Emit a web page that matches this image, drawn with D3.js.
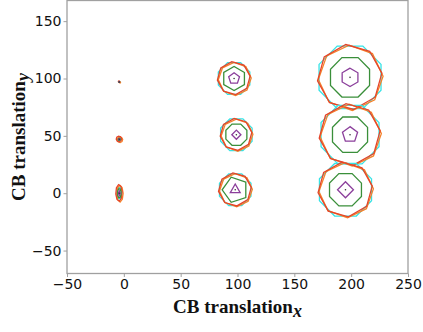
<!DOCTYPE html>
<html>
<head>
<meta charset="utf-8">
<script src="https://cdn.jsdelivr.net/npm/d3@7"></script>
<style>
  html, body { margin: 0; padding: 0; background: #fff; }
  #chart { width: 423px; height: 332px; }
</style>
</head>
<body>
<div id="chart"></div>
<script>
// cluster centres (data units)
const clusterX = [-4, -4, -4, 97, 99, 98, 199, 199, 195];
const clusterY = [97, 47, 0, 100, 51, 3, 101, 51, 3];

// circumradius of each contour, per cluster
const cyanR   = [0.4, 1.2, 2.0, 15, 15, 15, 29.5, 27.6, 24.8];
const orangeR = [0.5, 2.4, 2.8, 14.5, 14, 14.5, 28.5, 27, 24];
const greenR  = [0.3, 0.9, 1.6, 10.5, 10, 11.5, 18.6, 16.7, 15.2];
const purpleR = [0.2, 0.5, 0.8, 5.0, 4.0, 5.0, 8.0, 7.0, 7.0];
const greenSides  = [8, 8, 8, 6, 8, 5, 8, 8, 8];
const purpleSides = [4, 4, 4, 5, 4, 3, 6, 5, 4];
const stretchY    = [1, 1, 2.6, 1, 1, 1, 1, 1, 1];

const xTicks = [-50, 0, 50, 100, 150, 200, 250];
const yTicks = [-50, 0, 50, 100, 150];

const width = 423, height = 332;
const margin = { top: 0.5, right: 15, bottom: 58.5, left: 67 };

const svg = d3.select('#chart')
  .append('svg')
  .attr('width', width)
  .attr('height', height);

const x = d3.scaleLinear()
  .domain([-50, 250])
  .range([margin.left, width - margin.right]);

const y = d3.scaleLinear()
  .domain([-70, 168])
  .range([height - margin.bottom, margin.top]);

// polygon around a centre, radius in data units
const polygon = (cx, cy, r, sides, rot, sy) => {
  const pts = d3.range(sides).map(k => {
    const a = rot + k * 2 * Math.PI / sides;
    return [x(cx + r * Math.cos(a)), y(cy + r * Math.sin(a) * sy)];
  });
  return 'M' + pts.join('L') + 'Z';
};

const marks = svg.append('g').attr('fill', 'none').attr('stroke-width', 1.3);

clusterX.forEach((cx, i) => {
  const cy = clusterY[i];
  const sy = stretchY[i];
  marks.append('path')
    .attr('d', polygon(cx, cy, cyanR[i], 8, Math.PI / 8, sy))
    .attr('stroke', '#35e3e6');
  marks.append('path')
    .attr('d', polygon(cx + 0.6, cy - 0.4, orangeR[i], 8, 0.05, sy))
    .attr('stroke', '#f5822a');
  marks.append('path')
    .attr('d', polygon(cx - 0.3, cy + 0.3, orangeR[i], 8, 0.12, sy))
    .attr('stroke', '#e4452b');
  marks.append('path')
    .attr('d', polygon(cx, cy, greenR[i], greenSides[i], Math.PI / greenSides[i], sy))
    .attr('stroke', '#3a8f3a');
  marks.append('path')
    .attr('d', polygon(cx, cy, purpleR[i], purpleSides[i], Math.PI / 2, sy))
    .attr('stroke', '#8b3f9b');
  marks.append('circle')
    .attr('cx', x(cx))
    .attr('cy', y(cy))
    .attr('r', 0.8)
    .attr('fill', '#333');
});

// frame
svg.append('rect')
  .attr('x', x(-50))
  .attr('y', y(168))
  .attr('width', x(250) - x(-50))
  .attr('height', y(-70) - y(168))
  .attr('fill', 'none')
  .attr('stroke', '#a0a0a0')
  .attr('stroke-width', 1.3);

const xAxis = svg.append('g')
  .attr('transform', `translate(0, ${y(-70)})`)
  .call(d3.axisBottom(x).tickValues(xTicks).tickSize(3.5).tickPadding(2));

const yAxis = svg.append('g')
  .attr('transform', `translate(${x(-50)}, 0)`)
  .call(d3.axisLeft(y).tickValues(yTicks).tickSize(3.5).tickPadding(2));

[xAxis, yAxis].forEach(g => {
  g.select('.domain').remove();
  g.selectAll('line').attr('stroke', '#a0a0a0');
  g.selectAll('text')
    .attr('fill', '#111')
    .style('font-family', '"DejaVu Sans", sans-serif')
    .style('font-size', '14px');
});

// axis labels
const xl = svg.append('text')
  .attr('x', (x(-50) + x(250)) / 2)
  .attr('y', 312.5)
  .attr('text-anchor', 'middle')
  .style('font-family', '"Liberation Serif", "Times New Roman", serif')
  .style('font-weight', 'bold')
  .style('font-size', '19px')
  .attr('fill', '#111');
xl.append('tspan').text('CB translation');
xl.append('tspan').attr('dy', 4).style('font-style', 'italic').style('font-size', '18px').text('x');

const yl = svg.append('text')
  .attr('transform', `translate(25, ${(y(-70) + y(168)) / 2}) rotate(-90)`)
  .attr('text-anchor', 'middle')
  .style('font-family', '"Liberation Serif", "Times New Roman", serif')
  .style('font-weight', 'bold')
  .style('font-size', '19px')
  .attr('fill', '#111');
yl.append('tspan').text('CB translation');
yl.append('tspan').attr('dy', 4).style('font-style', 'italic').style('font-size', '18px').text('y');
</script>
</body>
</html>
